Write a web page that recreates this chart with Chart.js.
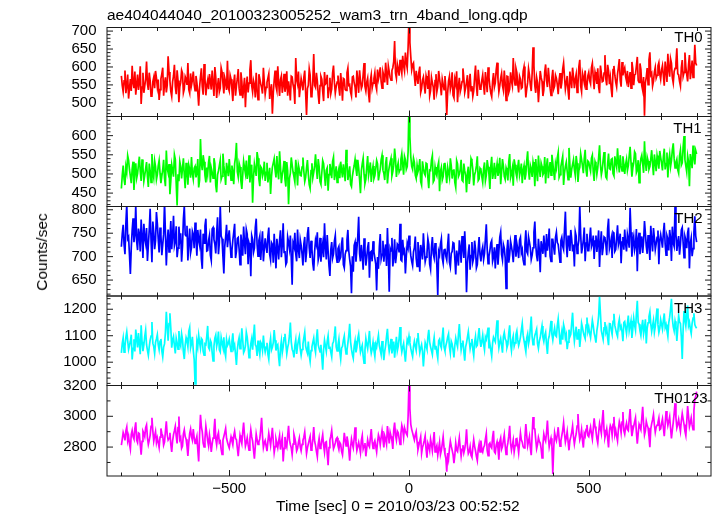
<!DOCTYPE html>
<html>
<head>
<meta charset="utf-8">
<script src="https://cdn.jsdelivr.net/npm/chart.js@4.4.1/dist/chart.umd.min.js"></script>
<style>
  html, body { margin: 0; padding: 0; background: #fff; }
  #page { position: relative; width: 717px; height: 516px; overflow: hidden;
          font-family: 'Liberation Sans', Arial, Helvetica, sans-serif; color: #000; }
  #page canvas { position: absolute; left: 0; top: 0; }
  .lbl { position: absolute; font-size: 15px; line-height: 20px; white-space: nowrap; }
</style>
</head>
<body>
<div id="page">
  <canvas id="c0" width="717" height="516"></canvas>
  <canvas id="c1" width="717" height="516"></canvas>
  <canvas id="c2" width="717" height="516"></canvas>
  <canvas id="c3" width="717" height="516"></canvas>
  <canvas id="c4" width="717" height="516"></canvas>

  <div class="lbl" style="left:107px;top:5px;font-size:15.5px">ae404044040_20100323005252_wam3_trn_4band_long.qdp</div>
  <div class="lbl" style="right:14.3px;top:27px">TH0</div>
  <div class="lbl" style="right:15.3px;top:117.5px">TH1</div>
  <div class="lbl" style="right:14.3px;top:208px">TH2</div>
  <div class="lbl" style="right:14.7px;top:298px">TH3</div>
  <div class="lbl" style="right:9.3px;top:387.5px">TH0123</div>
  <div class="lbl" style="left:41.5px;top:252px;font-size:15.5px;transform:translate(-50%,-50%) rotate(-90deg)">Counts/sec</div>
  <div class="lbl" style="left:276px;top:496px;font-size:15.5px">Time [sec] 0 = 2010/03/23 00:52:52</div>
</div>

<script>
// ── Light curves: 2.5 s bins from -800 s to +800 s (641 points each) ──
const T_START = -800;
const T_BIN   = 2.5;

const TH0 = [
  575,548,531,561,590,527,548,579,512,540,566,533,603,556,541,587,523,551,579,536,558,602,497,544,584,528,547,566,615,553,536,584,562,519,520,559,571,541,589,570,
  544,565,508,537,567,581,598,520,553,571,529,549,630,586,561,532,518,559,575,606,546,524,591,562,502,545,557,591,583,528,539,573,566,550,611,537,527,582,549,563,
  587,551,534,575,556,530,492,544,572,596,545,523,608,567,521,549,563,538,580,561,537,590,554,519,600,572,514,547,569,531,541,598,586,555,526,570,558,536,617,542,
  533,577,566,538,505,556,579,520,547,568,594,541,522,585,560,513,541,570,488,546,573,529,555,592,619,548,530,562,551,515,584,537,509,580,567,553,543,526,598,559,
  524,543,557,569,581,511,536,552,470,527,563,590,546,534,602,556,519,565,575,528,549,581,531,544,588,520,560,539,507,574,572,551,538,497,625,566,553,587,516,542,
  568,553,535,571,590,528,466,540,549,595,578,517,521,562,636,549,543,584,561,523,497,548,574,566,532,505,586,552,555,578,513,541,570,526,539,583,604,557,527,545,
  558,576,542,520,583,553,506,568,566,537,535,584,597,549,551,530,519,572,574,556,544,515,590,563,528,591,562,540,548,579,611,546,533,558,569,527,501,562,578,541,
  555,568,584,549,537,593,566,578,599,560,541,586,575,557,612,581,550,603,587,571,563,590,598,615,672,583,569,608,594,576,620,598,582,631,604,589,640,612,597,655,
  740,668,628,592,606,611,575,547,589,570,553,585,601,529,540,563,572,548,526,575,563,539,591,520,534,571,556,544,509,562,580,531,545,589,567,548,521,566,552,537,
  575,541,466,528,561,574,537,550,585,521,514,566,553,588,502,545,570,531,542,559,596,569,529,542,558,577,512,553,581,534,547,518,533,572,604,547,519,592,563,538,
  540,563,578,549,523,586,562,530,599,571,545,527,517,560,583,544,556,591,612,565,531,547,569,582,548,535,590,556,507,574,573,529,538,585,561,547,625,569,550,596,
  584,552,529,574,566,540,543,588,601,561,515,539,557,595,578,550,533,582,655,603,548,528,571,556,502,543,589,571,560,519,536,586,607,563,544,598,567,541,521,570,
  592,539,547,577,569,551,524,563,583,540,556,594,611,572,538,555,575,534,509,587,564,541,598,572,541,566,580,529,552,601,620,547,531,583,571,556,590,538,546,575,
  585,562,553,598,610,571,538,586,574,553,596,544,527,604,582,559,561,583,633,567,549,606,590,552,571,539,516,593,603,577,558,545,580,599,622,563,545,614,577,591,
  598,573,561,589,544,567,586,541,614,595,549,578,580,603,628,562,557,610,593,548,535,572,464,556,572,597,551,620,641,578,583,547,560,586,599,569,577,603,612,581,
  566,592,604,577,548,615,590,558,637,594,573,623,611,570,555,587,596,612,652,581,578,560,547,598,619,574,585,640,601,579,560,605,633,566,589,618,571,596,662,611,
  604
];

const TH1 = [
  462,497,522,486,471,519,505,548,536,511,494,476,513,532,458,503,528,489,501,524,545,507,482,538,517,481,496,514,531,493,466,527,509,478,552,505,490,534,519,485,
  498,521,535,502,476,494,511,537,489,468,561,515,503,526,447,482,524,509,493,550,538,475,418,499,481,532,519,488,515,541,497,463,529,506,472,523,512,490,544,501,
  486,515,520,491,503,539,465,484,591,527,510,549,532,496,478,517,499,530,547,478,516,505,489,541,527,470,452,498,508,522,536,486,494,553,521,502,471,529,513,494,
  539,509,484,522,506,473,527,544,581,506,492,528,518,481,461,497,533,516,501,535,487,503,549,478,510,524,425,490,526,511,495,557,541,487,468,519,515,494,503,532,
  482,504,529,478,497,516,448,493,518,529,540,511,491,547,507,486,559,520,476,498,512,534,486,467,531,509,421,488,502,543,524,505,493,479,537,514,470,523,511,496,
  495,518,543,507,480,491,516,536,499,472,462,509,528,490,504,521,551,514,487,539,519,480,473,503,535,527,497,469,510,516,456,498,526,510,489,533,544,484,501,520,
  478,502,514,489,532,510,491,525,505,481,563,531,484,500,520,473,467,494,509,522,538,513,495,537,516,486,450,508,527,541,499,475,486,519,547,496,511,530,479,507,
  521,488,496,513,535,526,483,499,512,537,549,510,502,484,527,544,475,502,518,531,541,495,506,523,566,540,492,517,529,505,511,538,553,524,498,546,537,512,519,558,
  690,598,545,520,512,541,530,497,488,523,506,514,539,480,471,533,515,502,497,528,526,490,463,510,509,536,548,479,484,518,502,495,520,531,455,507,517,484,493,526,
  529,501,476,517,504,490,541,522,488,509,512,478,465,535,526,493,499,512,537,484,481,527,508,496,452,503,519,474,495,540,533,511,470,498,506,521,546,483,487,515,
  511,493,478,514,530,482,496,536,519,498,461,520,545,487,502,529,487,511,527,495,508,542,473,504,539,521,494,486,516,507,483,532,552,490,500,515,469,538,524,503,
  491,518,537,496,508,527,476,510,522,485,499,534,559,507,485,523,514,492,531,516,468,539,506,481,548,513,492,529,520,498,503,544,475,520,541,489,512,531,497,550,
  529,505,484,527,515,542,556,491,498,519,533,546,471,503,520,531,507,485,568,524,490,512,525,537,511,496,547,528,479,509,517,553,538,521,502,540,563,510,493,534,
  531,518,507,541,549,505,482,532,524,499,516,543,575,524,498,511,536,557,519,492,488,527,553,514,512,538,540,501,495,546,529,517,567,530,504,549,521,508,546,526,
  500,525,538,509,522,547,571,530,493,516,529,558,553,504,511,536,477,520,540,549,526,503,585,531,508,544,534,512,519,539,562,526,497,551,531,507,548,533,514,560,
  543,528,509,545,566,512,527,556,491,534,551,519,535,563,580,540,516,529,538,511,502,547,562,523,529,570,599,537,521,505,547,532,468,552,536,515,574,543,525,561,
  552
];

const TH2 = [
  721,749,768,726,705,771,812,738,742,704,663,719,756,782,731,746,810,733,714,760,748,711,779,743,697,770,739,728,761,691,725,757,802,736,688,775,752,716,734,795,
  771,737,709,762,745,703,726,748,815,751,681,729,758,710,740,776,716,744,787,723,732,765,699,718,764,736,750,689,723,780,808,747,744,766,692,730,760,708,719,754,
  747,718,773,740,702,757,736,725,758,695,674,749,729,766,781,712,713,734,745,703,692,759,762,737,727,707,751,784,705,730,809,744,738,700,664,722,742,768,720,741,
  756,728,699,713,735,752,770,697,711,739,741,716,683,747,727,702,764,730,705,758,748,684,729,721,658,745,737,709,718,762,781,726,701,735,744,693,725,754,690,717,
  739,721,708,744,762,705,693,730,726,687,749,713,675,738,718,694,735,756,699,725,771,709,712,683,688,742,731,717,745,698,640,729,722,751,706,690,758,715,697,736,
  724,706,681,727,742,688,709,748,763,719,697,734,716,685,670,711,735,726,752,693,703,740,689,714,728,699,771,722,694,746,712,680,659,715,731,697,706,733,745,702,
  688,717,722,694,699,728,741,683,676,705,713,736,757,712,694,679,622,701,668,724,731,689,716,742,785,707,690,725,703,672,739,715,681,698,720,731,655,709,711,690,
  733,710,697,684,628,699,674,721,748,695,705,734,689,712,726,680,761,703,625,718,712,740,679,698,737,686,703,727,724,709,770,693,691,736,709,714,664,701,728,719,
  745,723,702,690,681,710,719,743,696,679,731,707,668,725,713,694,750,716,689,699,707,738,726,684,673,720,742,706,697,729,715,680,618,711,704,727,738,697,686,714,
  717,701,693,724,749,688,678,707,711,730,728,695,662,713,700,681,735,719,687,744,720,697,754,710,624,685,709,726,672,702,731,689,698,734,716,676,683,715,742,704,
  690,712,721,694,707,738,769,716,685,701,713,729,734,690,699,720,675,708,727,683,711,741,752,705,693,726,718,698,632,714,736,687,704,733,722,709,688,722,746,700,
  728,716,697,735,741,708,715,693,683,727,756,711,706,742,731,719,694,703,719,752,775,725,702,690,738,714,667,733,721,706,745,720,699,748,713,729,760,701,690,737,
  737,719,704,741,752,730,726,708,688,734,741,722,715,758,796,727,699,745,731,712,757,738,711,726,679,753,744,707,722,735,808,748,707,720,736,762,690,729,749,713,
  713,739,762,721,728,745,695,733,745,710,731,756,678,728,754,703,719,742,740,726,703,760,781,717,726,738,697,752,749,711,715,740,767,725,734,749,686,731,742,715,
  758,727,711,748,737,719,804,752,700,731,743,714,724,759,669,738,751,705,729,743,708,733,776,750,722,706,746,729,693,766,735,711,761,740,715,728,741,756,684,735,
  747,734,719,751,772,727,703,745,738,713,757,739,691,764,729,722,809,748,712,731,744,704,726,757,762,730,698,743,735,718,751,762,675,728,740,701,717,753,786,744,
  731
];

const TH3 = [
  1035,1071,1092,1038,1061,1094,1115,1082,1048,1063,1079,1104,1010,1052,1087,1041,1123,1089,1056,1110,1071,1030,1139,1077,1042,1065,1098,1121,1066,1045,1026,1058,1083,1099,1152,1072,1059,1033,1075,1088,
  1104,1066,1047,1079,1088,1043,1020,1057,1069,1112,1190,1135,1081,1146,1185,1128,1055,1084,1097,1062,1033,1091,1074,1049,1118,1073,1061,1107,1086,1039,1012,1065,1093,1081,1058,1117,1131,1054,1070,1096,
  1044,1010, 918,1002,1079,1058,1102,1075,1053,1090,1085,1041,1027,1069,1066,1098,1137,1055,1048,1083,1074,1036,1005,1061,1091,1103,1060,1078,1116,1047,1039,1093,1072,1056,1094,1040,1022,1085,1063,1071,
  1087,1062,1041,1078,1109,1054,1065,1029, 990,1047,1076,1093,1051,1070,1128,1084,1036,1044,1062,1113,1095,1060,1017,1038,1070,1089,1047,1097,1142,1066,1059,1024,1082,1050,1028,1075,1068,1045,1101,1059,
  1039,1057,1073,1030,1011,1066,1090,1046,1056,1074,1121,1083,1044,1062,1067,1018, 985,1053,1080,1036,1058,1092,1107,1069,1032,1055,1071,1101,1150,1077,1049,1040,1018,1064,1085,1031,1061,1082,1097,1050,
  1026,1048,1069,1092,1113,1061,1045,1034,1078,1027,1003,1044,1058,1075,1091,1056,1037,1087,1124,1065,1052,1039,1066,1019, 972,1047,1083,1062,1041,1079,1100,1053,1059,1038,1020,1070,1077,1101,1135,1058,
  1043,1065,1087,1040,1012,1054,1060,1083,1099,1058,1031,1046,1072,1101,1145,1077,1049,1029,1015,1061,1081,1037,1056,1089,1106,1070,1038,1052,1064,1024, 996,1045,1090,1068,1051,1082,1118,1059,1034,1049,
  1075,1044,1022,1068,1057,1081,1102,1063,1046,1029,1080,1052,1008,1041,1063,1097,1126,1071,1041,1059,1088,1033,1054,1078,1017,1056,1096,1043,1060,1090,1133,1065,1039,1057,1071,1036,1002,1048,1085,1074,
  1098,1073,1052,1035,1021,1059,1079,1061,1045,1087,1110,1070,1036,1053,1066,1041, 984,1030,1074,1062,1049,1095,1122,1076,1058,1044,1029,1069,1093,1050,1062,1036,1015,1081,1087,1064,1054,1092,1131,1057,
  1043,1062,1076,1094,1107,1058,1034,1079,1069,1046,1018,1064,1091,1072,1058,1103,1144,1088,1047,1069,1082,1041,1006,1057,1073,1094,1115,1082,1051,1070,1088,1049,1025,1075,1097,1059,1064,1098,1129,1083,
  1058,1079,1102,1068,1047,1095,1086,1108,1131,1052,1069,1046,1023,1072,1094,1085,1077,1119,1158,1093,1055,1076,1090,1064,1036,1097,1112,1088,1081,1055,1067,1110,1139,1071,1044,1083,1099,1060,1073,1104,
  1118,1084,1063,1077,1095,1121,1146,1102,1081,1060,1040,1092,1107,1069,1087,1128,1172,1095,1066,1083,1101,1112,1124,1070,1052,1080,1093,1116,1137,1094,1078,1101,1113,1067,1031,1086,1098,1125,1156,1106,
  1084,1110,1129,1101,1097,1138,1163,1120,1070,1092,1116,1085,1142,1127,1091,1104,1049,1076,1123,1096,1105,1148,1187,1119,1079,1107,1134,1088,1101,1125,1058,1094,1147,1131,1112,1099,1089,1140,1169,1116,
  1132,1109,1093,1126,1158,1137,1110,1095,1074,1118,1141,1175,1248,1184,1119,1102,1086,1130,1152,1113,1127,1092,1064,1146,1145,1121,1105,1154,1183,1139,1123,1108,1097,1144,1162,1127,1136,1115,1079,1150,
  1154,1131,1109,1145,1176,1119,1138,1157,1092,1126,1166,1140,1121,1183,1232,1150,1143,1118,1101,1134,1160,1107,1127,1162,1071,1129,1149,1172,1190,1145,1116,1138,1158,1113,1135,1169,1203,1142,1112,1128,
  1161,1143,1125,1158,1184,1131,1142,1120,1098,1149,1170,1201,1239,1164,1133,1118,1155,1136,1080,1127,1176,1152,1146,1095,1012,1124,1193,1160,1137,1178,1214,1138,1151,1126,1108,1147,1167,1185,1142,1133,
  1128
];

const TH0123 = [
  2812,2851,2895,2874,2843,2905,2930,2842,2871,2819,2786,2883,2908,2867,2852,2920,2961,2846,2829,2892,2887,2815,2750,2837,2903,2889,2868,2926,2944,2860,2817,2843,2876,2935,2990,2905,2838,2872,2901,2829,
  2859,2830,2797,2864,2921,2888,2874,2813,2832,2903,2968,2880,2846,2857,2893,2818,2769,2841,2881,2906,2935,2872,2824,2927,2998,2849,2862,2793,2807,2885,2912,2868,2851,2806,2742,2829,2889,2917,2866,2844,
  2917,2862,2823,2845,2870,2783,2706,2879,3010,2932,2899,2826,2801,2855,2936,2891,2840,2808,2878,2834,2768,2821,2858,2907,2984,2853,2815,2872,2893,2829,2837,2786,2752,2846,2869,2894,2921,2857,2833,2811,
  2794,2833,2867,2841,2815,2872,2902,2856,2848,2795,2741,2810,2876,2847,2823,2898,2959,2875,2806,2829,2861,2817,2780,2854,2912,2866,2839,2781,2724,2806,2884,2849,2818,2834,2853,2912,2990,2871,2797,2826,
  2842,2808,2773,2835,2889,2851,2811,2867,2925,2839,2764,2803,2852,2825,2796,2840,2874,2784,2830,2861,2707,2792,2866,2820,2801,2873,2938,2846,2817,2795,2752,2819,2883,2858,2826,2775,2790,2831,2859,2802,
  2776,2817,2843,2864,2898,2826,2758,2795,2821,2847,2869,2780,2795,2853,2930,2838,2811,2772,2738,2819,2857,2791,2802,2846,2880,2812,2767,2830,2834,2758,2682,2797,2845,2871,2908,2842,2789,2806,2827,2853,
  2861,2809,2784,2830,2819,2772,2750,2815,2893,2846,2807,2869,2836,2781,2712,2799,2852,2820,2795,2857,2928,2837,2778,2804,2831,2798,2763,2844,2875,2788,2809,2826,2740,2792,2846,2813,2801,2860,2917,2835,
  2791,2826,2842,2805,2768,2831,2879,2858,2815,2863,2905,2849,2797,2872,2851,2818,2936,2884,2823,2896,2870,2841,2788,2911,2959,2878,2845,2904,2893,2856,2817,2889,2941,2915,2862,2926,2905,2887,2876,2998,
  3230,3050,2948,2915,2892,2869,2846,2880,2901,2834,2784,2812,2839,2867,2760,2798,2817,2843,2872,2786,2731,2825,2806,2777,2851,2819,2775,2835,2898,2768,2792,2810,2747,2789,2830,2752,2779,2821,2867,2796,
  2754,2727,2640,2761,2722,2790,2838,2806,2780,2752,2696,2748,2825,2779,2770,2817,2861,2794,2741,2785,2812,2763,2789,2830,2915,2808,2757,2771,2803,2746,2733,2796,2848,2805,2776,2740,2712,2785,2820,2769,
  2842,2783,2768,2797,2810,2851,2887,2776,2745,2818,2826,2802,2793,2865,2905,2770,2761,2812,2834,2791,2718,2836,2859,2787,2804,2844,2881,2809,2752,2795,2827,2871,2938,2823,2780,2814,2846,2768,2809,2852,
  2855,2811,2763,2829,2891,2847,2832,2803,2794,2865,2950,2876,2808,2839,2869,2795,2747,2882,2995,2921,2917,2848,2790,2816,2862,2837,2826,2791,2730,2815,2884,2856,2839,2893,2972,2867,2801,2832,2858,2810,
  2625,2790,2893,2862,2841,2880,2929,2854,2806,2840,2874,2909,2958,2887,2832,2861,2901,2835,2779,2843,2866,2896,2937,2868,2820,2858,2885,2937,3015,2902,2848,2871,2912,2845,2797,2888,2871,2915,2944,2876,
  2868,2902,2930,2885,2851,2919,2987,2933,2903,2856,2826,2895,2952,2921,2889,2974,3040,2912,2862,2887,2918,2860,2798,2905,2941,2926,2877,2948,2996,2881,2909,2872,2840,2916,2965,2939,2893,2962,3028,2907,
  2884,2928,2956,2915,2907,2982,3047,2941,2871,2909,2935,2963,2990,2897,2822,2889,2948,2931,2913,2987,3062,2952,2880,2906,2967,2941,2925,2870,2799,2918,2952,2978,3011,2945,2896,2929,2943,2960,2988,2913,
  2918,2955,2983,2927,2871,2949,3034,2986,2941,2969,2997,2924,2856,2911,2960,3019,3085,2990,2925,2948,2979,2938,2902,2971,3018,2982,2947,2903,2875,2962,3066,3001,2932,2958,2990,2944,2913,3037,3110,3128,
  3160
];

// ── Axis ticks ───────────────────────────────────────────────
const X_TICKS       = [-500, 0, 500];
const X_TICK_LABELS = ['\u2212500', '0', '500'];
const X_MINOR       = [-800, -700, -600, -500, -400, -300, -200, -100, 0, 100, 200, 300, 400, 500, 600, 700, 800];

const Y0_TICKS = [500, 550, 600, 650, 700];
const Y1_TICKS = [450, 500, 550, 600];
const Y2_TICKS = [650, 700, 750, 800];
const Y3_TICKS = [1000, 1100, 1200];
const Y4_TICKS = [2800, 3000, 3200];

// panel layout (canvas px) and scale ranges
const PANELS = [
  { id: 'c0', values: TH0,    color: '#ff0000', min: 462,  max: 710,  ticks: Y0_TICKS, minorStep: 10,  top: 27.5,  bottom: 116.5 },
  { id: 'c1', values: TH1,    color: '#00ff00', min: 415,  max: 650,  ticks: Y1_TICKS, minorStep: 10,  top: 116.5, bottom: 206.5 },
  { id: 'c2', values: TH2,    color: '#0000ff', min: 616,  max: 807,  ticks: Y2_TICKS, minorStep: 10,  top: 206.5, bottom: 296 },
  { id: 'c3', values: TH3,    color: '#00ffff', min: 912,  max: 1250, ticks: Y3_TICKS, minorStep: 20,  top: 296,   bottom: 385.5 },
  { id: 'c4', values: TH0123, color: '#ff00ff', min: 2612, max: 3200, ticks: Y4_TICKS, minorStep: 100, top: 385.5, bottom: 476, last: true }
];

const W = 717, H = 516;
const PLOT_LEFT = 107, PLOT_RIGHT = 711;

Chart.defaults.font.family = "'Liberation Sans', Arial, Helvetica, sans-serif";
Chart.defaults.color = '#000';

// frame + inward ticks, qdp style
const frameTicks = {
  id: 'frameTicks',
  afterDatasetsDraw(chart, args, opts) {
    const { ctx, chartArea: a, scales: { x, y } } = chart;
    ctx.save();
    ctx.strokeStyle = '#1a1a1a';
    ctx.lineWidth = 1;
    ctx.strokeRect(a.left, a.top, a.right - a.left, a.bottom - a.top);

    ctx.beginPath();
    X_MINOR.forEach(v => {
      const px = Math.round(x.getPixelForValue(v)) + 0.5;
      const len = X_TICKS.includes(v) ? 6 : 3.5;
      ctx.moveTo(px, a.top);    ctx.lineTo(px, a.top + len);
      ctx.moveTo(px, a.bottom); ctx.lineTo(px, a.bottom - len);
    });
    const start = Math.ceil(opts.min / opts.step) * opts.step;
    for (let v = start; v <= opts.max; v += opts.step) {
      const py = y.getPixelForValue(v);
      const len = opts.major.includes(v) ? 6 : 3.5;
      ctx.moveTo(a.left, py);  ctx.lineTo(a.left + len, py);
      ctx.moveTo(a.right, py); ctx.lineTo(a.right - len, py);
    }
    ctx.stroke();
    ctx.restore();
  }
};

function makePanel(p) {
  const xScale = {
    type: 'linear',
    min: -840, max: 840,
    display: !!p.last,
    border: { display: false },
    grid: { display: false, drawTicks: false },
    ticks: {
      padding: 4,
      font: { size: 15 },
      maxRotation: 0,
      callback: (v) => X_TICK_LABELS[X_TICKS.indexOf(v)]
    },
    afterBuildTicks: s => { s.ticks = X_TICKS.map(v => ({ value: v })); }
  };
  if (p.last) xScale.afterFit = s => { s.height = H - p.bottom; };

  return new Chart(document.getElementById(p.id), {
    type: 'line',
    data: {
      datasets: [{
        data: p.values.map((v, i) => ({ x: T_START + i * T_BIN, y: v })),
        borderColor: p.color,
        borderWidth: 1.7,
        pointRadius: 0,
        tension: 0,
        fill: false
      }]
    },
    options: {
      responsive: false,
      animation: false,
      events: [],
      parsing: false,
      normalized: true,
      layout: {
        padding: { left: 0, right: W - PLOT_RIGHT, top: p.top, bottom: p.last ? 0 : H - p.bottom }
      },
      plugins: {
        legend: { display: false },
        tooltip: { enabled: false },
        frameTicks: { min: p.min, max: p.max, step: p.minorStep, major: p.ticks }
      },
      scales: {
        x: xScale,
        y: {
          type: 'linear',
          min: p.min, max: p.max,
          border: { display: false },
          grid: { display: false, drawTicks: false },
          ticks: { padding: 10.5, font: { size: 15 }, callback: v => String(v) },
          afterBuildTicks: s => { s.ticks = p.ticks.map(v => ({ value: v })); },
          afterFit: s => { s.width = PLOT_LEFT; }
        }
      }
    },
    plugins: [frameTicks]
  });
}

PANELS.forEach(makePanel);
</script>
</body>
</html>
